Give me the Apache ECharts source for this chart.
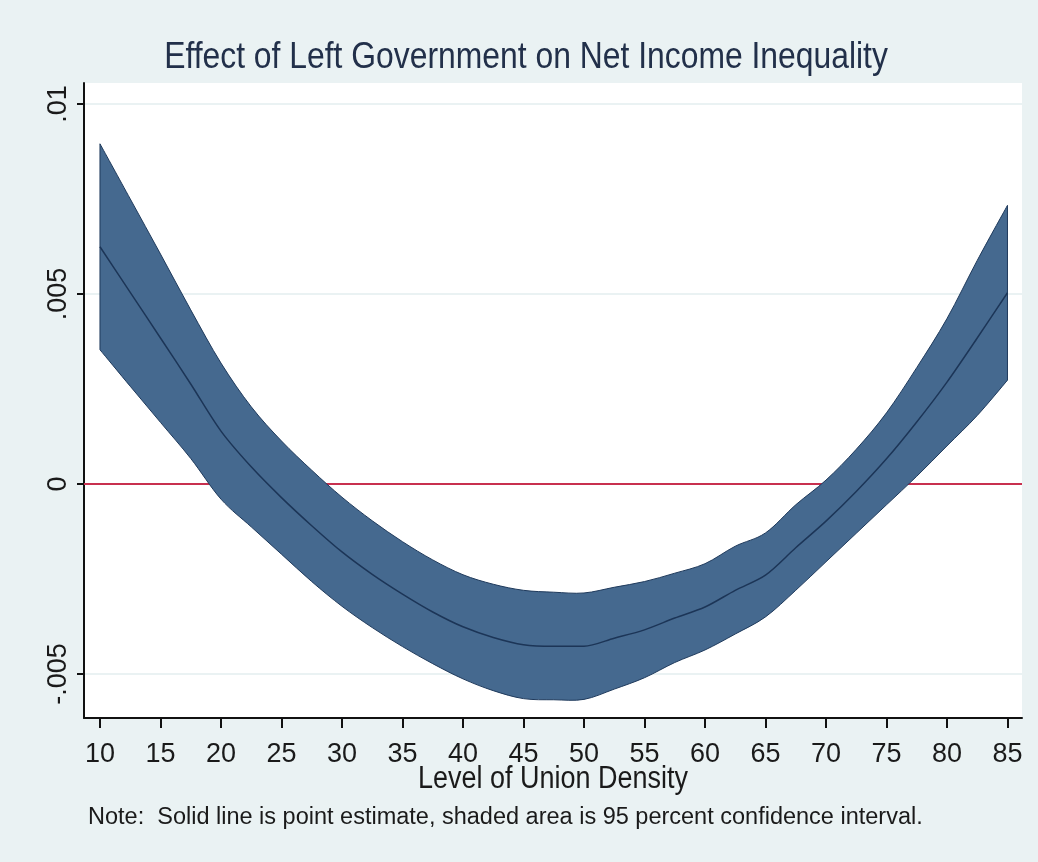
<!DOCTYPE html>
<html>
<head>
<meta charset="utf-8">
<script src="https://cdn.jsdelivr.net/npm/echarts@6/dist/echarts.min.js"></script>
<style>
  html, body { margin: 0; padding: 0; background: #eaf2f3; }
  #main { width: 1038px; height: 862px; }
</style>
</head>
<body>
<div id="main"></div>
<script>
// level of union density (x)
const unionDensity = [10, 12.5, 15, 17.5, 20, 22.5, 25, 27.5, 30, 32.5, 35, 37.5, 40, 42.5, 45, 47.5,
  50, 52.5, 55, 57.5, 60, 62.5, 65, 67.5, 70, 72.5, 75, 77.5, 80, 82.5, 85];
// 95% CI upper bound
const ciUpper = [0.00895, 0.0075, 0.00605, 0.00458, 0.00318, 0.00203, 0.00113, 0.00036, -0.00035, -0.00097,
  -0.00152, -0.002, -0.00239, -0.00264, -0.0028, -0.00285, -0.00287, -0.00272, -0.00257, -0.00235,
  -0.0021, -0.00164, -0.00129, -0.00055, 0.0001, 0.00091, 0.00187, 0.00306, 0.00435, 0.00588, 0.00733];
// 95% CI lower bound
const ciLower = [0.00353, 0.00257, 0.00162, 0.00067, -0.0004, -0.00113, -0.00185, -0.00257, -0.00322, -0.00378,
  -0.00428, -0.00473, -0.00513, -0.00544, -0.00565, -0.00568, -0.00567, -0.0054, -0.0051, -0.0047,
  -0.00437, -0.00395, -0.0035, -0.0028, -0.00205, -0.0013, -0.00055, 0.0002, 0.001, 0.0018, 0.00273];
// point estimate
const pointEstimate = [0.00624, 0.00504, 0.00384, 0.00263, 0.00139, 0.00045, -0.00036, -0.0011, -0.00179, -0.00238,
  -0.0029, -0.00337, -0.00376, -0.00404, -0.00423, -0.00427, -0.00427, -0.00406, -0.00384, -0.00353,
  -0.00324, -0.0028, -0.0024, -0.00168, -0.00098, -0.0002, 0.00066, 0.00163, 0.00268, 0.00384, 0.00503];

const xTicks = [10, 15, 20, 25, 30, 35, 40, 45, 50, 55, 60, 65, 70, 75, 80, 85];
const yTicks = [-0.005, 0, 0.005, 0.01];
const yTickLabels = ["-.005", "0", ".005", ".01"];

const font = "'Liberation Sans', Arial, sans-serif";
const bandColor = "#45698f";
const edgeColor = "#1f3a5c";

// smooth curve through points (catmull-rom as cubic beziers)
const curveTo = (pts) => {
  let d = "";
  const n = pts.length;
  for (let i = 0; i < n - 1; i++) {
    const p0 = pts[Math.max(i - 1, 0)];
    const p1 = pts[i];
    const p2 = pts[i + 1];
    const p3 = pts[Math.min(i + 2, n - 1)];
    const c1 = [p1[0] + (p2[0] - p0[0]) / 6, p1[1] + (p2[1] - p0[1]) / 6];
    const c2 = [p2[0] - (p3[0] - p1[0]) / 6, p2[1] - (p3[1] - p1[1]) / 6];
    d += ` C ${c1[0]} ${c1[1]} ${c2[0]} ${c2[1]} ${p2[0]} ${p2[1]}`;
  }
  return d;
};

const chart = echarts.init(document.getElementById("main"));

const option = {
  backgroundColor: "#eaf2f3",
  animation: false,
  grid: {
    left: 84,
    right: 16,
    top: 83,
    bottom: 144,
    show: true,
    backgroundColor: "#ffffff",
    borderWidth: 0,
  },
  xAxis: {
    type: "value",
    min: 8.68,
    max: 86.2,
    axisLine: { onZero: false, lineStyle: { color: "#111", width: 2 } },
    axisTick: { show: true, length: 10, customValues: xTicks, lineStyle: { color: "#111", width: 2 } },
    axisLabel: { customValues: xTicks, fontFamily: font, fontSize: 27, color: "#1a1a1a", margin: 23 },
    splitLine: { show: false },
  },
  yAxis: {
    type: "value",
    min: -0.00616,
    max: 0.01055,
    axisLine: { show: true, onZero: false, lineStyle: { color: "#111", width: 2 } },
    axisTick: { show: true, length: 7, customValues: yTicks, lineStyle: { color: "#111", width: 2 } },
    axisLabel: {
      customValues: yTicks,
      rotate: 90,
      margin: 12,
      fontFamily: font,
      fontSize: 27,
      color: "#1a1a1a",
      formatter: (v) => {
        const i = yTicks.findIndex((t) => Math.abs(t - v) < 1e-9);
        return i >= 0 ? yTickLabels[i] : "";
      },
    },
    splitLine: { show: true, lineStyle: { color: "#eaf2f3", width: 2 } },
  },
  graphic: [
    {
      // title, squeezed a bit like the Stata font
      type: "text",
      x: 526,
      y: 58,
      scaleX: 0.885,
      style: {
        text: "Effect of Left Government on Net Income Inequality",
        font: "36px " + font,
        fill: "#22304a",
        align: "center",
        verticalAlign: "middle",
      },
    },
    {
      type: "text",
      x: 553,
      y: 779,
      scaleX: 0.87,
      style: {
        text: "Level of Union Density",
        font: "31px " + font,
        fill: "#1a1a1a",
        align: "center",
        verticalAlign: "middle",
      },
    },
    {
      type: "text",
      x: 88,
      y: 818,
      style: {
        text: "Note:  Solid line is point estimate, shaded area is 95 percent confidence interval.",
        font: "23.5px " + font,
        fill: "#1a1a1a",
        verticalAlign: "middle",
      },
    },
  ],
  series: [
    {
      // shaded 95% confidence band
      type: "custom",
      data: [0],
      silent: true,
      z: 2,
      renderItem: (params, api) => {
        const up = unionDensity.map((x, i) => api.coord([x, ciUpper[i]]));
        const lo = unionDensity.map((x, i) => api.coord([x, ciLower[i]])).reverse();
        const d = `M ${up[0][0]} ${up[0][1]}` + curveTo(up) +
          ` L ${lo[0][0]} ${lo[0][1]}` + curveTo(lo) + " Z";
        return {
          type: "path",
          shape: { pathData: d },
          style: { fill: bandColor, stroke: edgeColor, lineWidth: 1 },
        };
      },
    },
    {
      type: "line",
      data: unionDensity.map((x, i) => [x, pointEstimate[i]]),
      smooth: 0.3,
      showSymbol: false,
      lineStyle: { color: "#1c3557", width: 1.5 },
      z: 3,
      markLine: {
        silent: true,
        symbol: "none",
        label: { show: false },
        lineStyle: { color: "#c8304f", width: 2, type: "solid" },
        data: [{ yAxis: 0 }],
        z: 1,
      },
    },
  ],
};

chart.setOption(option);
</script>
</body>
</html>
